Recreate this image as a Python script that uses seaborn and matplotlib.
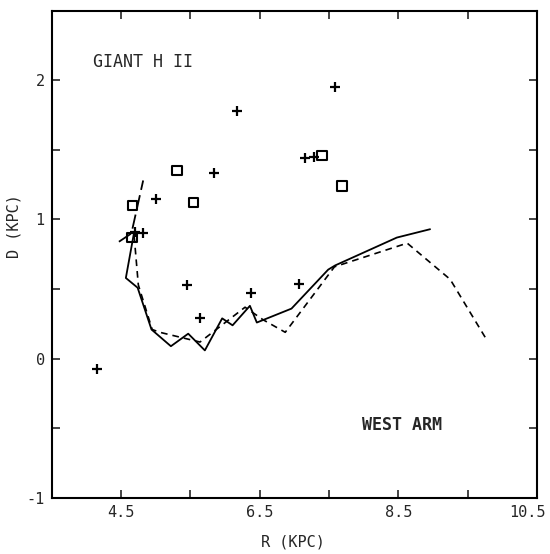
import numpy as np
import pandas as pd
import matplotlib
matplotlib.use("Agg")
import matplotlib.pyplot as plt
import matplotlib.transforms as mtransforms
import seaborn as sns

# giant H II regions (crosses and boxes)
plus_r = [4.16, 4.70, 4.82, 5.01, 5.45, 5.64, 5.84, 6.18, 6.38, 7.07, 7.15, 7.28, 7.59]
plus_d = [-0.07, 0.91, 0.90, 1.15, 0.53, 0.29, 1.33, 1.78, 0.47, 0.54, 1.44, 1.45, 1.95]
box_r = [4.66, 4.67, 5.31, 5.55, 7.40, 7.69]
box_d = [0.87, 1.10, 1.35, 1.12, 1.46, 1.24]

# west arm tracings
solid_r = [4.69, 4.57, 4.74, 4.94, 5.22, 5.47, 5.71, 5.96, 6.11, 6.36, 6.46, 6.96, 7.49, 7.59, 8.48, 8.96]
solid_d = [0.91, 0.58, 0.51, 0.21, 0.09, 0.18, 0.06, 0.29, 0.24, 0.38, 0.26, 0.36, 0.64, 0.67, 0.87, 0.93]
dash_r = [4.69, 4.75, 4.95, 5.06, 5.64, 6.29, 6.55, 6.87, 7.58, 8.63, 9.25, 9.76]
dash_d = [0.88, 0.53, 0.21, 0.19, 0.12, 0.37, 0.28, 0.19, 0.66, 0.83, 0.57, 0.15]
long_r = [4.47, 4.65, 4.82]
long_d = [0.84, 0.90, 1.28]

x_ticklabels = ["", "4.5", "", "6.5", "", "8.5", "", "10.5"]
y_ticklabels = ["-1", "", "0", "", "1", "", "2", ""]

sns.set_style("white")
plt.rcParams['font.family'] = ['DejaVu Sans Mono', 'DejaVu Sans']

fig = plt.figure(figsize=(5.5, 5.54), dpi=100)
ax = fig.add_axes([0.094, 0.101, 0.882, 0.880])

sns.lineplot(x=solid_r, y=solid_d, sort=False, color="black", lw=1.3, ax=ax, estimator=None)
sns.lineplot(x=dash_r, y=dash_d, sort=False, color="black", lw=1.2, ax=ax, estimator=None,
             linestyle=(0, (4, 3)))
sns.lineplot(x=long_r, y=long_d, sort=False, color="black", lw=1.3, ax=ax, estimator=None,
             linestyle=(0, (8, 3)))
sns.scatterplot(x=plus_r, y=plus_d, marker="+", s=55, color="black", linewidth=1.6, ax=ax)
sns.scatterplot(x=box_r, y=box_d, marker="s", s=45, facecolor="none", edgecolor="black",
                linewidth=1.5, ax=ax)

ax.text(4.09, 2.13, "GIANT H II", fontsize=12, va="center", ha="left")
ax.text(7.98, -0.475, "WEST ARM", fontsize=12, va="center", ha="left", fontweight="bold")

ax.set_xlim(3.5, 10.5)
ax.set_ylim(-1, 2.5)
ax.set_xticks(np.arange(3.5, 10.6, 1.0))
ax.set_xticklabels(x_ticklabels)
ax.set_yticks(np.arange(-1, 2.6, 0.5))
ax.set_yticklabels(y_ticklabels)
ax.tick_params(direction="in", length=6, width=1.2, top=True, right=True, labelsize=11,
               bottom=True, left=True, pad=5)
for s in ax.spines.values():
    s.set_color("black")
    s.set_linewidth(1.5)

# last x label sits a bit left so it stays on the page
last = ax.get_xticklabels()[-1]
last.set_transform(last.get_transform() + mtransforms.ScaledTranslation(-9 / 100, 0, fig.dpi_scale_trans))

ax.set_xlabel("R (KPC)", fontsize=11)
ax.set_ylabel("D (KPC)", fontsize=11)
ax.xaxis.set_label_coords(0.497, -0.074)
ax.yaxis.set_label_coords(-0.062, 0.558)

fig.savefig("out.png", dpi=100)
